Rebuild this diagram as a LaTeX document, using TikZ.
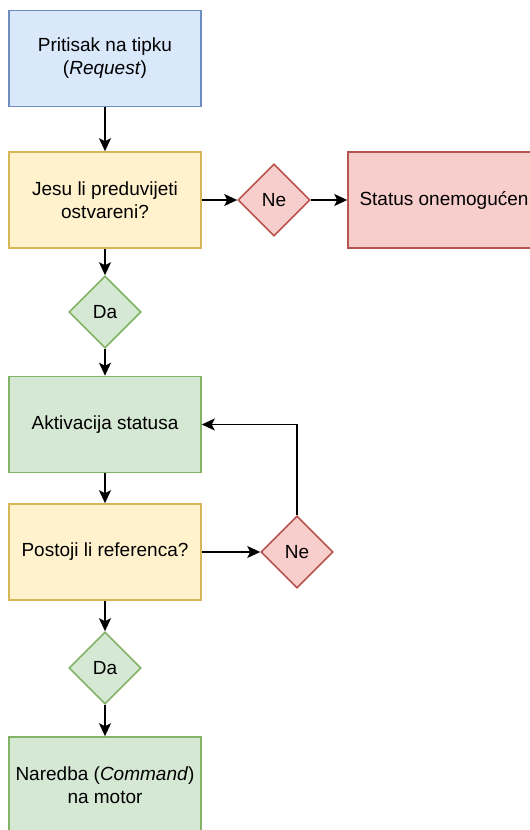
\documentclass[tikz,border=0pt]{standalone}
\usepackage{fontspec}
\setmainfont{Liberation Sans}
\usetikzlibrary{shapes.geometric,arrows.meta}
\definecolor{bluefill}{HTML}{DAE8FC}\definecolor{bluedraw}{HTML}{6C8EBF}
\definecolor{yelfill}{HTML}{FFF2CC}\definecolor{yeldraw}{HTML}{D6B656}
\definecolor{redfill}{HTML}{F8CECC}\definecolor{reddraw}{HTML}{B85450}
\definecolor{grnfill}{HTML}{D5E8D4}\definecolor{grndraw}{HTML}{82B366}
\tikzset{
  box/.style={rectangle, line width=1.6pt, minimum width=192pt, minimum height=96pt, inner sep=0pt, align=center, font=\fontsize{19}{23}\selectfont},
  dia/.style={diamond, line width=1.6pt, minimum width=72pt, minimum height=72pt, inner sep=0pt, font=\fontsize{19}{23}\selectfont},
  blue/.style={fill=bluefill, draw=bluedraw},
  yel/.style={fill=yelfill, draw=yeldraw},
  red/.style={fill=redfill, draw=reddraw},
  grn/.style={fill=grnfill, draw=grndraw},
  arr/.style={line width=1.6pt, -{Stealth[length=13pt,width=12pt,inset=3pt]}}
}
\begin{document}
\begin{tikzpicture}[x=1pt,y=-1pt]
\useasboundingbox (0,0) rectangle (530,830);
\clip (0,0) rectangle (530,830);
\fill[white] (0,0) rectangle (530,830);
\node[box,blue] (req) at (105,58.5) {Pritisak na tipku\\(\textit{Request})};
\node[box,yel] (pre) at (105,200) {Jesu li preduvijeti\\ostvareni?};
\node[dia,red] (ne1) at (274,200) {Ne};
\node[box,red] (dis) at (444,200) {Status onemogućen};
\node[dia,grn] (da1) at (105,312) {Da};
\node[box,grn] (act) at (105,424.5) {Aktivacija statusa};
\node[box,yel] (ref) at (105,552) {Postoji li referenca?};
\node[dia,red] (ne2) at (297,552) {Ne};
\node[dia,grn] (da2) at (105,668) {Da};
\node[box,grn] (cmd) at (105,785) {Naredba (\textit{Command})\\na motor};
\draw[arr] (req) -- (pre);
\draw[arr] (pre) -- (ne1);
\draw[arr] (ne1) -- (dis);
\draw[arr] (pre) -- (da1);
\draw[arr] (da1) -- (act);
\draw[arr] (act) -- (ref);
\draw[arr] (ref) -- (ne2);
\draw[arr] (ne2.north) |- (act.east);
\draw[arr] (ref) -- (da2);
\draw[arr] (da2) -- (cmd);
\end{tikzpicture}
\end{document}
